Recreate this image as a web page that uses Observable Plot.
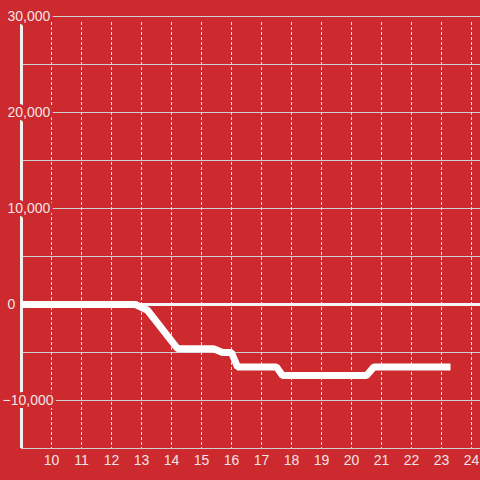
<!DOCTYPE html>
<html>
<head>
<meta charset="utf-8">
<script src="https://cdn.jsdelivr.net/npm/d3@7"></script>
<script src="https://cdn.jsdelivr.net/npm/@observablehq/plot@0.6"></script>
<style>
  html, body { margin: 0; padding: 0; background: #cc2a2f; }
  #chart svg { display: block; }
</style>
</head>
<body>
<div id="chart"></div>
<script>
// Data
const hours  = [9, 12.8, 13.2, 14.2, 15.4, 15.7, 16.0, 16.2, 17.5, 17.7, 20.5, 20.75, 23.3];
const values = [0, 0, -600, -4600, -4600, -5000, -5000, -6500, -6500, -7400, -7400, -6500, -6500];
const xTicks = [10, 11, 12, 13, 14, 15, 16, 17, 18, 19, 20, 21, 22, 23, 24];
const yGrid  = [-15000, -10000, -5000, 5000, 10000, 15000, 20000, 25000, 30000];
const yLabels = [-10000, 0, 10000, 20000, 30000];

const data = hours.map((h, i) => ({hour: h, value: values[i]}));
const bg = "#cc2a2f";
const fg = "#f2e4e4";
const fmt = d3.format(",");

const chart = Plot.plot({
  width: 480,
  height: 480,
  marginLeft: 21,
  marginRight: 0,
  marginTop: 16,
  marginBottom: 32,
  style: {background: bg, fontFamily: "Liberation Sans, Arial, sans-serif", fontSize: "14px"},
  x: {domain: [9, 24.3], axis: null},
  y: {domain: [-15000, 30000], axis: null},
  marks: [
    Plot.ruleY(yGrid, {stroke: "#cfcfcf", strokeWidth: 1}),
    Plot.ruleX(xTicks, {stroke: "#e6e6e6", strokeWidth: 1, strokeDasharray: "3,2", insetTop: 6}),
    Plot.ruleY([0], {stroke: "#f7f7f7", strokeWidth: 3}),
    Plot.ruleX([9], {stroke: "#f0f0f0", strokeWidth: 3, insetTop: 6}),
    Plot.line(data, {x: "hour", y: "value", stroke: "#ffffff", strokeWidth: 7, strokeLinejoin: "miter", strokeLinecap: "butt"}),
    Plot.text(yLabels.filter(d => d >= 0), {
      y: d => d, frameAnchor: "left", dx: -14, textAnchor: "start",
      text: d => fmt(d), fill: fg, stroke: bg, strokeWidth: 6, paintOrder: "stroke", fontSize: 14
    }),
    Plot.text(yLabels.filter(d => d < 0), {
      y: d => d, frameAnchor: "left", dx: -19, textAnchor: "start",
      text: d => fmt(d), fill: fg, stroke: bg, strokeWidth: 6, paintOrder: "stroke", fontSize: 14
    }),
    Plot.text(xTicks, {
      x: d => d, frameAnchor: "bottom", dy: 16,
      text: d => String(d), fill: fg, fontSize: 14
    })
  ]
});
document.getElementById("chart").appendChild(chart);
</script>
</body>
</html>
